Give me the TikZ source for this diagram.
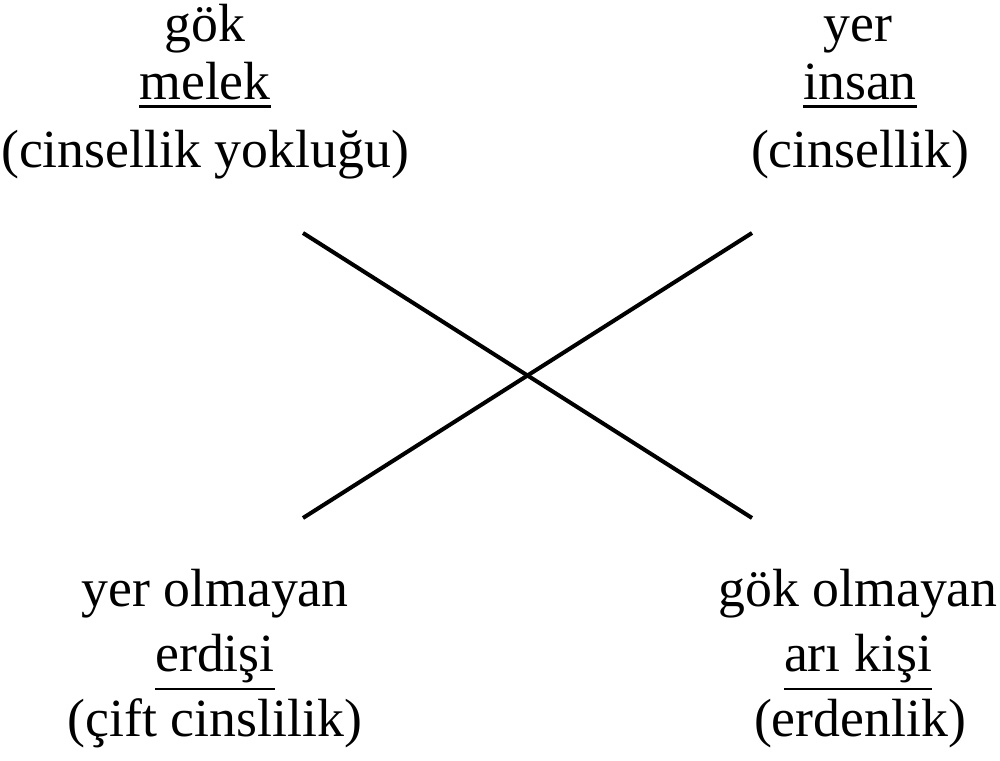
\documentclass[tikz,border=0pt]{standalone}
\usepackage{fontspec}
\setmainfont{Liberation Serif}
\newcommand\uword[1]{\vtop{\hbox{#1}\kern1.2pt\hrule height 0.8pt}}
\tikzset{
	word/.style={anchor=base, inner sep=0pt, font=\fontsize{15.3}{18}\selectfont},
	bar/.style={line width=1.15pt}
}
\begin{document}
\begin{tikzpicture}
	\useasboundingbox (0,0) rectangle (10,7.6);
	% top left
	\node[word] (gok) at (2.05,7.18) {gök};
	\node[word] (melek) at (2.05,6.60) {\uword{melek}};
	\node[word] (yoklugu) at (2.05,5.92) {(cinsellik yokluğu)};
	% top right
	\node[word] (yer) at (8.58,7.18) {yer};
	\node[word] (insan) at (8.60,6.60) {\uword{insan}};
	\node[word] (cinsellik) at (8.60,5.92) {(cinsellik)};
	% bottom left
	\node[word] (yerolm) at (2.15,1.53) {yer olmayan};
	\node[word] (erdisi) at (2.15,0.88) {\uword{erdişi}};
	\node[word] (cift) at (2.15,0.23) {(çift cinslilik)};
	% bottom right
	\node[word] (gokolm) at (8.58,1.53) {gök olmayan};
	\node[word] (arikisi) at (8.58,0.88) {\uword{arı kişi}};
	\node[word] (erdenlik) at (8.60,0.23) {(erdenlik)};
	% the cross
	\coordinate (tl) at (3.03,5.27);
	\coordinate (tr) at (7.52,5.27);
	\coordinate (bl) at (3.03,2.42);
	\coordinate (br) at (7.52,2.42);
	\draw[bar] (tl) -- (br);
	\draw[bar] (tr) -- (bl);
\end{tikzpicture}
\end{document}
